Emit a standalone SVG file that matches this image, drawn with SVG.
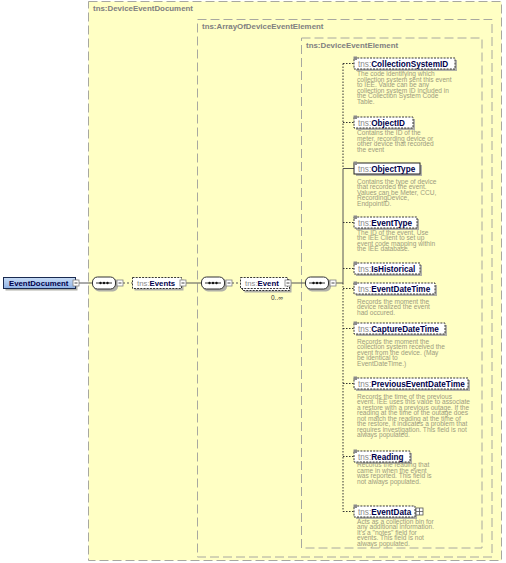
<svg xmlns="http://www.w3.org/2000/svg" width="506" height="563" viewBox="0 0 506 563">
<style>
text{font-family:"Liberation Sans",Arial,sans-serif}
.cont{fill:#ffffc4;stroke:#a8a8a0;stroke-width:1;stroke-dasharray:9 4}
.clabel{font-size:7.9px;font-weight:bold;fill:#808080}
.box{fill:#fff;stroke:#222;stroke-width:0.9;stroke-dasharray:2 1.2}
.sbox{fill:#fff;stroke:#222;stroke-width:1}
.shadow{fill:#b0b0a8}
.ns{font-weight:normal;fill:#8a8a8a}
.nm{font-weight:bold;fill:#00004a}
.en{font-size:8.2px}
.men{font-size:7.8px}
.desc{font-size:6.6px;fill:#9c9b7e}
.ln{stroke:#555;stroke-width:1;fill:none}
.dln{stroke:#555;stroke-width:1;fill:none;stroke-dasharray:2 2}
.vd{stroke:#333;stroke-width:1;fill:none;stroke-dasharray:1.5 1.5}
.mark{fill:#8a8a8a}
</style>
<defs>
<g id="seq">
<rect x="2" y="2" width="24" height="13" rx="5" class="shadow"/>
<rect x="0.5" y="0.5" width="23" height="12" rx="5" fill="#fff" stroke="#333" stroke-width="1"/>
<line x1="4" y1="6.5" x2="20" y2="6.5" stroke="#333" stroke-width="1"/>
<circle cx="8.5" cy="6.5" r="1.2" fill="#111"/>
<circle cx="12" cy="6.5" r="1.2" fill="#111"/>
<circle cx="15.5" cy="6.5" r="1.2" fill="#111"/>
</g>
<g id="minus">
<rect x="0.5" y="0.5" width="6" height="6" fill="#fff" stroke="#808080" stroke-width="0.8"/>
<line x1="2" y1="3.5" x2="5" y2="3.5" stroke="#333" stroke-width="0.9"/>
</g>
<linearGradient id="blue" x1="0" y1="0" x2="0" y2="1">
<stop offset="0" stop-color="#c8dcf6"/>
<stop offset="1" stop-color="#8fb2e6"/>
</linearGradient>
</defs>

<g id="type-DeviceEventDocument">
<rect x="88.5" y="1.5" width="413" height="559" class="cont"/>
<text x="93" y="10.5" class="clabel">tns:DeviceEventDocument</text>
</g>
<g id="type-ArrayOfDeviceEventElement">
<rect x="197.5" y="19.5" width="294.5" height="537.5" class="cont"/>
<text x="202" y="29" class="clabel">tns:ArrayOfDeviceEventElement</text>
</g>
<g id="type-DeviceEventElement">
<rect x="301.5" y="38" width="180.5" height="510" class="cont"/>
<text x="306" y="47.5" class="clabel">tns:DeviceEventElement</text>
</g>

<g id="connectors">
<line x1="79" y1="283" x2="92" y2="283" class="ln"/>
<line x1="123" y1="283" x2="132.5" y2="283" class="dln"/>
<line x1="186" y1="283" x2="201" y2="283" class="ln"/>
<line x1="232" y1="283" x2="240.5" y2="283" class="dln"/>
<line x1="291" y1="283" x2="305" y2="283" class="ln"/>
<line x1="336" y1="283" x2="343" y2="283" class="ln"/>
<line x1="343" y1="63.5" x2="343" y2="168.5" class="vd"/>
<line x1="343" y1="168.5" x2="343" y2="283" class="ln"/>
<line x1="343" y1="283" x2="343" y2="511.5" class="vd"/>
<line x1="343" y1="63.5" x2="354" y2="63.5" class="vd"/>
<line x1="343" y1="122.5" x2="354" y2="122.5" class="vd"/>
<line x1="343" y1="168.5" x2="354" y2="168.5" class="ln"/>
<line x1="343" y1="222.5" x2="354" y2="222.5" class="vd"/>
<line x1="343" y1="268.5" x2="354" y2="268.5" class="vd"/>
<line x1="343" y1="288.5" x2="354" y2="288.5" class="vd"/>
<line x1="343" y1="328.5" x2="354" y2="328.5" class="vd"/>
<line x1="343" y1="383.5" x2="354" y2="383.5" class="vd"/>
<line x1="343" y1="456.5" x2="354" y2="456.5" class="vd"/>
<line x1="343" y1="511.5" x2="354" y2="511.5" class="vd"/>
</g>

<g id="node-EventDocument">
<rect x="5.5" y="279.5" width="72" height="11" class="shadow"/>
<rect x="3.5" y="277.5" width="72" height="11" fill="url(#blue)" stroke="#1a2a50" stroke-width="1"/>
<text x="9" y="286" class="men nm">EventDocument</text>
<use href="#minus" x="72.5" y="279.5"/>
</g>
<g id="seq-1"><use href="#seq" x="92" y="276.5"/><use href="#minus" x="116.5" y="279.5"/></g>
<g id="node-Events">
<rect x="134.5" y="279.5" width="49" height="11" class="shadow"/>
<rect x="132.5" y="277.5" width="49" height="11" class="box"/>
<text x="137" y="286" class="men"><tspan class="ns">tns:</tspan><tspan class="nm">Events</tspan></text>
<use href="#minus" x="179.5" y="279.5"/>
</g>
<g id="seq-2"><use href="#seq" x="201" y="276.5"/><use href="#minus" x="225.5" y="279.5"/></g>
<g id="node-Event">
<rect x="244.5" y="281.5" width="47" height="11" class="shadow"/>
<rect x="242.5" y="279.5" width="47" height="11" class="box"/>
<rect x="240.5" y="277.5" width="47" height="11" class="box"/>
<text x="245" y="286" class="men"><tspan class="ns">tns:</tspan><tspan class="nm">Event</tspan></text>
<use href="#minus" x="284.5" y="279.5"/>
<text x="271" y="299.5" font-size="6.5" fill="#333">0..∞</text>
</g>
<g id="seq-3"><use href="#seq" x="305" y="276.5"/><use href="#minus" x="329.5" y="279.5"/></g>

<g id="node-CollectionSystemID">
<rect x="356" y="60" width="101" height="11" class="shadow"/>
<rect x="354" y="58" width="101" height="11" class="box"/>
<rect x="353.5" y="56.5" width="3.5" height="3.5" class="mark"/>
<text x="358" y="66.5" class="en"><tspan class="ns">tns:</tspan><tspan class="nm">CollectionSystemID</tspan></text>
<text class="desc"><tspan x="357" y="76">The code identifying which</tspan><tspan x="357" y="81.5">collection system sent this event</tspan><tspan x="357" y="87">to IEE. Value can be any</tspan><tspan x="357" y="92.5">collection system ID included in</tspan><tspan x="357" y="98">the Collection System Code</tspan><tspan x="357" y="103.5">Table.</tspan></text>
</g>
<g id="node-ObjectID">
<rect x="356" y="119" width="59" height="11" class="shadow"/>
<rect x="354" y="117" width="59" height="11" class="box"/>
<rect x="353.5" y="115.5" width="3.5" height="3.5" class="mark"/>
<text x="358" y="125.5" class="en"><tspan class="ns">tns:</tspan><tspan class="nm">ObjectID</tspan></text>
<text class="desc"><tspan x="357" y="135">Contains the ID of the</tspan><tspan x="357" y="140.5">meter, recording device or</tspan><tspan x="357" y="146">other device that recorded</tspan><tspan x="357" y="151.5">the event</tspan></text>
</g>
<g id="node-ObjectType">
<rect x="356" y="165" width="66" height="11" class="shadow"/>
<rect x="354" y="163" width="66" height="11" class="sbox"/>
<rect x="353.5" y="161.5" width="3.5" height="3.5" class="mark"/>
<text x="358" y="171.5" class="en"><tspan class="ns">tns:</tspan><tspan class="nm">ObjectType</tspan></text>
<text class="desc"><tspan x="357" y="183.5">Contains the type of device</tspan><tspan x="357" y="189">that recorded the event.</tspan><tspan x="357" y="194.5">Values can be Meter, CCU,</tspan><tspan x="357" y="200">RecordingDevice,</tspan><tspan x="357" y="205.5">EndpointID.</tspan></text>
</g>
<g id="node-EventType">
<rect x="356" y="219" width="63" height="11" class="shadow"/>
<rect x="354" y="217" width="63" height="11" class="box"/>
<rect x="353.5" y="215.5" width="3.5" height="3.5" class="mark"/>
<text x="358" y="225.5" class="en"><tspan class="ns">tns:</tspan><tspan class="nm">EventType</tspan></text>
<text class="desc"><tspan x="357" y="234.5">The ID of the event. Use</tspan><tspan x="357" y="240">the IEE Client to set up</tspan><tspan x="357" y="245.5">event code mapping within</tspan><tspan x="357" y="251">the IEE database.</tspan></text>
</g>
<g id="node-IsHistorical">
<rect x="356" y="265" width="66" height="11" class="shadow"/>
<rect x="354" y="263" width="66" height="11" class="box"/>
<rect x="353.5" y="261.5" width="3.5" height="3.5" class="mark"/>
<text x="358" y="271.5" class="en"><tspan class="ns">tns:</tspan><tspan class="nm">IsHistorical</tspan></text>
</g>
<g id="node-EventDateTime">
<rect x="356" y="285" width="81" height="11" class="shadow"/>
<rect x="354" y="283" width="81" height="11" class="box"/>
<rect x="353.5" y="281.5" width="3.5" height="3.5" class="mark"/>
<text x="358" y="291.5" class="en"><tspan class="ns">tns:</tspan><tspan class="nm">EventDateTime</tspan></text>
<text class="desc"><tspan x="357" y="303.5">Records the moment the</tspan><tspan x="357" y="309">device realized the event</tspan><tspan x="357" y="314.5">had occured.</tspan></text>
</g>
<g id="node-CaptureDateTime">
<rect x="356" y="325" width="91" height="11" class="shadow"/>
<rect x="354" y="323" width="91" height="11" class="box"/>
<rect x="353.5" y="321.5" width="3.5" height="3.5" class="mark"/>
<text x="358" y="331.5" class="en"><tspan class="ns">tns:</tspan><tspan class="nm">CaptureDateTime</tspan></text>
<text class="desc"><tspan x="357" y="343.5">Records the moment the</tspan><tspan x="357" y="349">collection system received the</tspan><tspan x="357" y="354.5">event from the device. (May</tspan><tspan x="357" y="360">be identical to</tspan><tspan x="357" y="365.5">EventDateTime.)</tspan></text>
</g>
<g id="node-PreviousEventDateTime">
<rect x="356" y="380" width="114" height="11" class="shadow"/>
<rect x="354" y="378" width="114" height="11" class="box"/>
<rect x="353.5" y="376.5" width="3.5" height="3.5" class="mark"/>
<text x="358" y="386.5" class="en"><tspan class="ns">tns:</tspan><tspan class="nm">PreviousEventDateTime</tspan></text>
<text class="desc"><tspan x="357" y="398.5">Records the time of the previous</tspan><tspan x="357" y="404">event. IEE uses this value to associate</tspan><tspan x="357" y="409.5">a restore with a previous outage. If the</tspan><tspan x="357" y="415">reading at the time of the outage does</tspan><tspan x="357" y="420.5">not match the reading at the time of</tspan><tspan x="357" y="426">the restore, it indicates a problem that</tspan><tspan x="357" y="431.5">requires investigation. This field is not</tspan><tspan x="357" y="437">always populated.</tspan></text>
</g>
<g id="node-Reading">
<rect x="356" y="453" width="56" height="11" class="shadow"/>
<rect x="354" y="451" width="56" height="11" class="box"/>
<rect x="353.5" y="449.5" width="3.5" height="3.5" class="mark"/>
<text x="358" y="459.5" class="en"><tspan class="ns">tns:</tspan><tspan class="nm">Reading</tspan></text>
<text class="desc"><tspan x="357" y="467">Records the reading that</tspan><tspan x="357" y="472.5">came in when the event</tspan><tspan x="357" y="478">was reported. This field is</tspan><tspan x="357" y="483.5">not always populated.</tspan></text>
</g>
<g id="node-EventData">
<rect x="356" y="508" width="61" height="11" class="shadow"/>
<rect x="354" y="506" width="61" height="11" class="box"/>
<rect x="353.5" y="504.5" width="3.5" height="3.5" class="mark"/>
<text x="358" y="514.5" class="en"><tspan class="ns">tns:</tspan><tspan class="nm">EventData</tspan></text>
<rect x="416" y="508" width="7" height="7" fill="#fff" stroke="#555" stroke-width="0.8"/>
<line x1="419.5" y1="508" x2="419.5" y2="515" stroke="#555" stroke-width="0.8"/>
<line x1="416" y1="511.5" x2="423" y2="511.5" stroke="#555" stroke-width="0.8"/>
<text class="desc"><tspan x="357" y="523.5">Acts as a collection bin for</tspan><tspan x="357" y="529">any additional information.</tspan><tspan x="357" y="534.5">It's a "notes" field for</tspan><tspan x="357" y="540">events. This field is not</tspan><tspan x="357" y="545.5">always populated.</tspan></text>
</g>
</svg>
